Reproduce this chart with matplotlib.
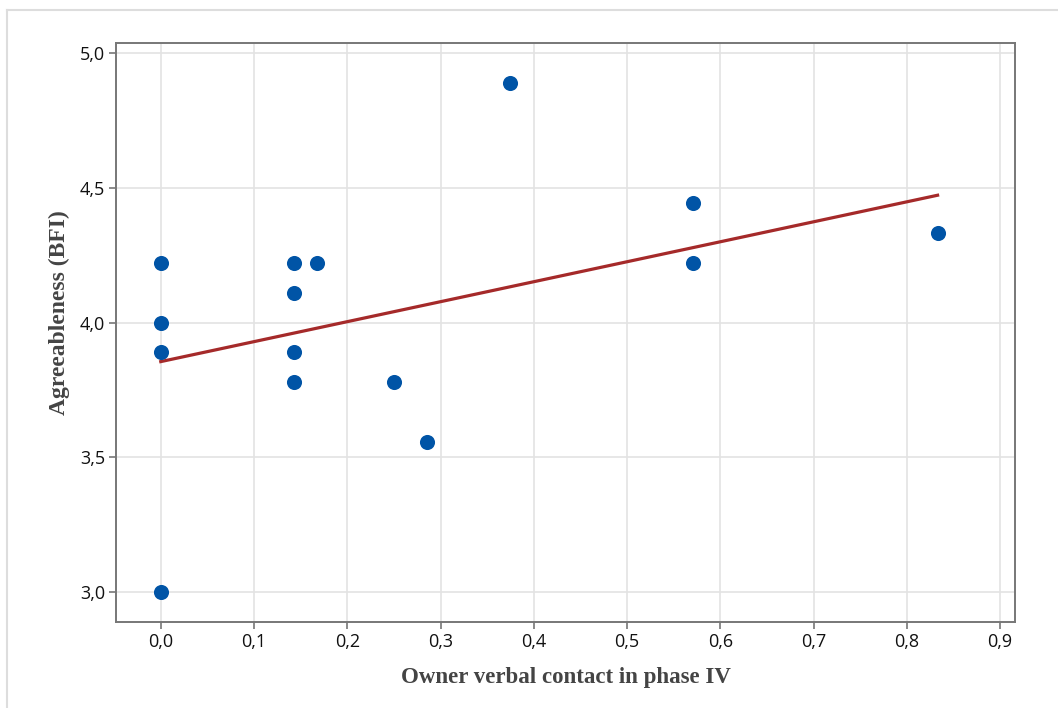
import numpy as np
import matplotlib.pyplot as plt
from matplotlib.lines import Line2D

# Owner verbal contact (phase IV) vs agreeableness (BFI)
contact = [0.0, 0.0, 0.0, 0.0,
           0.143, 0.143, 0.143, 0.143,
           0.167, 0.25, 0.286, 0.375,
           0.571, 0.571, 0.833]
agree = [4.222, 4.0, 3.889, 3.0,
         4.222, 4.111, 3.889, 3.778,
         4.222, 3.778, 3.556, 4.889,
         4.444, 4.222, 4.333]

# regression line
fit_intercept = 3.855
fit_slope = 0.741

xticks = [0.0, 0.1, 0.2, 0.3, 0.4, 0.5, 0.6, 0.7, 0.8, 0.9]
yticks = [3.0, 3.5, 4.0, 4.5, 5.0]

fig = plt.figure(figsize=(10.58, 7.08), dpi=100)
ax = fig.add_axes([116 / 1058, 1 - 622 / 708, 899 / 1058, 579 / 708])

# light frame around the picture (top and left edges visible)
fig.add_artist(Line2D([7 / 1058, 1], [1 - 10 / 708, 1 - 10 / 708], color='#dddddd', lw=1.5))
fig.add_artist(Line2D([7 / 1058, 7 / 1058], [0, 1 - 10 / 708], color='#dddddd', lw=1.5))

xs = np.array([min(contact), max(contact)])
ax.plot(xs, fit_intercept + fit_slope * xs, color='#a52a2a', lw=2.3, zorder=2)

ax.scatter(contact, agree, s=118, color='#0054a6', zorder=3, linewidths=0)

ax.set_xlim(-0.048, 0.916)
ax.set_ylim(2.889, 5.037)
ax.set_xticks(xticks)
ax.set_yticks(yticks)
ax.set_xticklabels([f'{t:.1f}'.replace('.', ',') for t in xticks],
                   fontsize=13, family='Open Sans', color='#111111')
ax.set_yticklabels([f'{t:.1f}'.replace('.', ',') for t in yticks],
                   fontsize=13, family='Open Sans', color='#111111')
ax.grid(True, color='#e3e3e3', lw=1.2)
ax.set_axisbelow(True)
ax.tick_params(length=5, color='#777777', width=1.2, pad=3)
for s in ax.spines.values():
    s.set_color('#777777')
    s.set_linewidth(1.4)

ax.set_xlabel('Owner verbal contact in phase IV', family='Liberation Serif',
              fontweight='bold', fontsize=16.5, color='#444444')
ax.xaxis.set_label_coords(0.5, -0.078)
ax.set_ylabel('Agreeableness (BFI)', family='Liberation Serif',
              fontweight='bold', fontsize=17, color='#444444')
ax.yaxis.set_label_coords(-0.051, 0.534)

fig.savefig('out.png', dpi=100)
